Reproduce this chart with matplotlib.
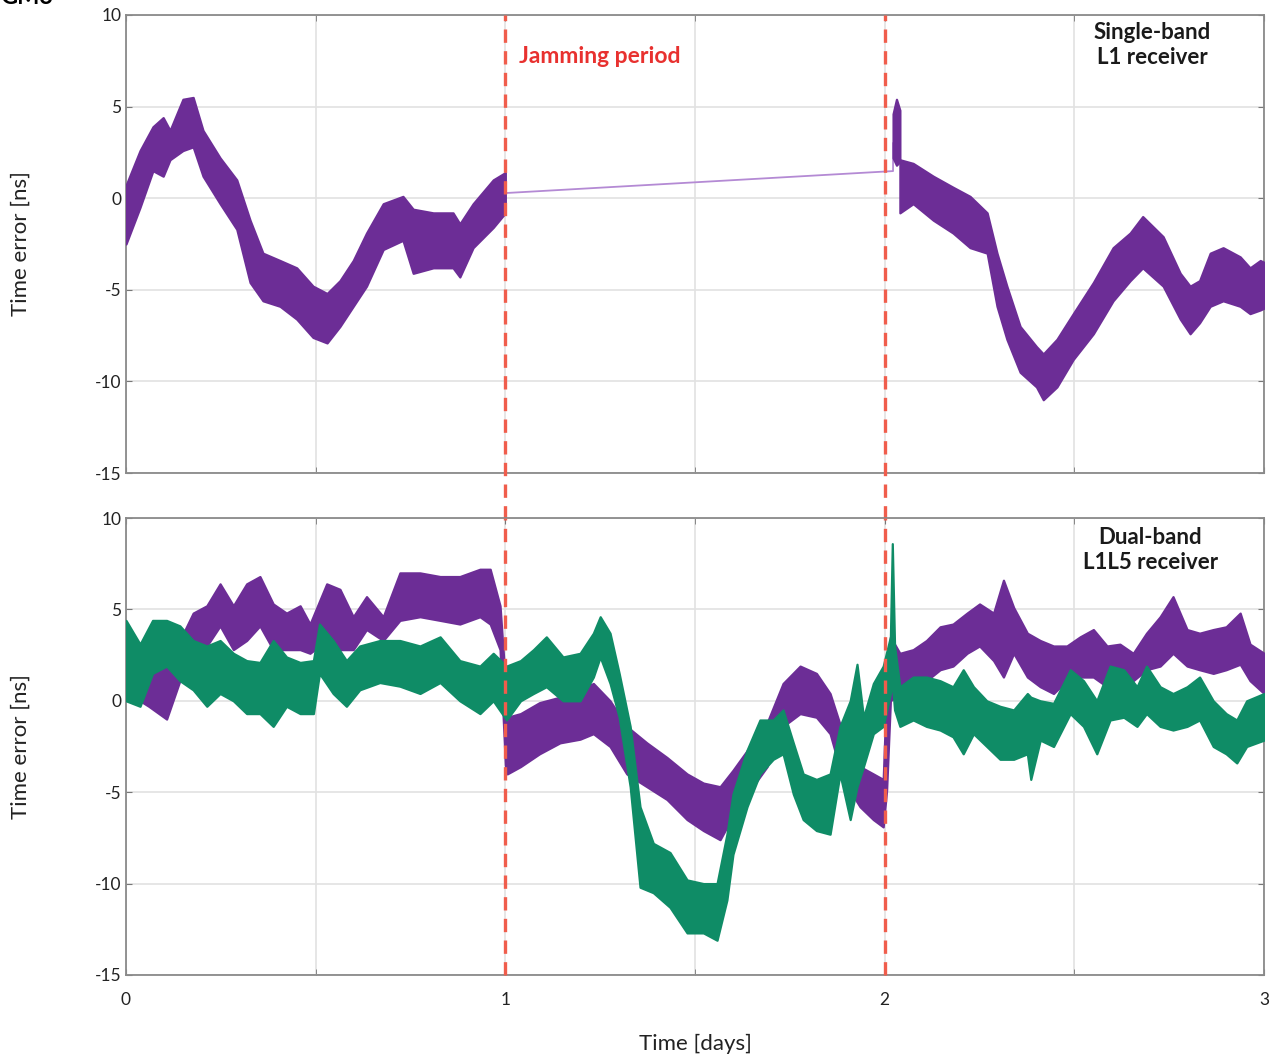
import numpy as np
import matplotlib
matplotlib.use("Agg")
import matplotlib.pyplot as plt

plt.rcParams['font.family'] = ['Lato', 'DejaVu Sans']
plt.rcParams['axes.unicode_minus'] = False

# ---- data (days, ns); each trace is a noisy band: lower / upper edge ----
# top panel: single-band L1 receiver
l1_x1 = [0.0, 0.037, 0.071, 0.098, 0.116, 0.15, 0.177, 0.203, 0.248, 0.292, 0.327, 0.361, 0.406, 0.45,
         0.493, 0.53, 0.564, 0.599, 0.634, 0.678, 0.73, 0.757, 0.81, 0.862, 0.88, 0.915, 0.968, 1.0]
l1_hi1 = [0.7, 2.6, 3.9, 4.4, 3.7, 5.4, 5.5, 3.7, 2.2, 1.0, -1.2, -3.0, -3.4, -3.8,
          -4.8, -5.2, -4.5, -3.4, -1.9, -0.3, 0.1, -0.6, -0.8, -0.8, -1.4, -0.3, 1.0, 1.4]
l1_lo1 = [-2.5, -0.5, 1.5, 1.2, 2.1, 2.6, 2.8, 1.2, -0.3, -1.7, -4.6, -5.6, -5.9, -6.6,
          -7.6, -7.9, -7.0, -5.9, -4.8, -2.8, -2.3, -4.1, -3.8, -3.8, -4.3, -2.7, -1.6, -0.8]

l1_spike_x = [2.022, 2.031, 2.04]
l1_spike_hi = [4.6, 5.4, 4.8]
l1_spike_lo = [2.2, 1.8, 2.0]

l1_x2 = [2.04, 2.075, 2.128, 2.18, 2.225, 2.27, 2.296, 2.322, 2.357, 2.4, 2.418, 2.454, 2.497, 2.55,
         2.602, 2.647, 2.68, 2.734, 2.779, 2.805, 2.83, 2.858, 2.892, 2.937, 2.963, 2.99, 3.0]
l1_hi2 = [2.1, 1.9, 1.2, 0.6, 0.1, -0.8, -3.0, -4.8, -7.0, -8.1, -8.5, -7.7, -6.3, -4.6,
          -2.7, -1.9, -1.0, -2.1, -4.1, -4.8, -4.5, -3.0, -2.7, -3.2, -3.8, -3.4, -3.5]
l1_lo2 = [-0.8, -0.3, -1.2, -1.9, -2.7, -3.0, -5.9, -7.7, -9.5, -10.3, -11.0, -10.3, -8.8, -7.4,
          -5.6, -4.5, -3.8, -4.8, -6.6, -7.4, -6.8, -5.9, -5.6, -5.9, -6.3, -6.1, -6.0]

# straight line drawn across the jamming gap
gap_x = [1.0, 2.022, 2.022]
gap_y = [0.28, 1.48, 3.0]

# bottom panel: dual-band L1L5 receiver, purple trace
l1l5_p_x = [0.0, 0.037, 0.06, 0.107, 0.142, 0.177, 0.213, 0.248, 0.283, 0.318, 0.353, 0.388, 0.423,
            0.459, 0.485, 0.529, 0.564, 0.599, 0.634, 0.678, 0.722, 0.775, 0.828, 0.88, 0.933, 0.96,
            0.986, 1.0, 1.005, 1.04, 1.09, 1.144, 1.197, 1.232, 1.276, 1.32, 1.373, 1.426, 1.479,
            1.522, 1.566, 1.6, 1.645, 1.69, 1.732, 1.777, 1.82, 1.856, 1.89, 1.935, 1.97, 1.996,
            2.005, 2.015, 2.04, 2.075, 2.11, 2.146, 2.18, 2.217, 2.25, 2.287, 2.313, 2.34, 2.376,
            2.41, 2.445, 2.48, 2.515, 2.55, 2.586, 2.62, 2.655, 2.69, 2.726, 2.76, 2.797, 2.83,
            2.866, 2.9, 2.937, 2.963, 3.0]
l1l5_p_hi = [3.3, 3.0, 2.4, 1.9, 3.3, 4.8, 5.2, 6.4, 5.2, 6.4, 6.8, 5.3, 4.8,
             5.2, 4.2, 6.4, 6.1, 4.6, 5.7, 4.6, 7.0, 7.0, 6.8, 6.8, 7.2, 7.2,
             5.2, 1.0, -0.9, -0.7, -0.1, 0.2, 0.6, 0.95, 0.0, -1.4, -2.3, -3.1, -4.0,
             -4.5, -4.7, -3.8, -2.5, -1.2, 0.95, 1.9, 1.5, 0.4, -1.8, -3.6, -4.0, -4.3,
             0.8, 3.5, 2.6, 2.8, 3.3, 4.05, 4.2, 4.8, 5.3, 4.8, 6.6, 5.1, 3.7,
             3.3, 3.0, 3.0, 3.5, 3.9, 3.0, 3.1, 2.6, 3.7, 4.6, 5.7, 3.9, 3.7,
             3.9, 4.05, 4.8, 3.1, 2.6]
l1l5_p_lo = [0.6, 0.0, -0.3, -1.0, 1.1, 2.8, 3.0, 4.1, 2.8, 3.3, 4.1, 2.8, 2.8,
             2.8, 2.6, 3.3, 2.8, 2.8, 3.9, 3.3, 4.4, 4.6, 4.4, 4.2, 4.6, 4.2,
             2.8, -3.5, -4.0, -3.6, -2.9, -2.3, -2.1, -1.8, -2.5, -4.0, -4.7, -5.4, -6.5,
             -7.1, -7.6, -6.3, -4.9, -3.6, -1.4, -0.7, -0.9, -1.8, -4.3, -5.8, -6.5, -6.9,
             -4.9, 0.0, 0.4, 0.77, 1.1, 1.7, 1.9, 2.6, 3.0, 2.2, 1.3, 2.6, 1.3,
             0.77, 0.4, 1.1, 1.3, 1.3, 0.77, 1.1, 1.1, 1.7, 1.9, 2.6, 1.9, 1.7,
             1.5, 1.7, 2.0, 1.1, 0.4]

# bottom panel: green trace
l1l5_g_x = [0.0, 0.037, 0.07, 0.107, 0.142, 0.177, 0.213, 0.248, 0.283, 0.318, 0.353, 0.388, 0.423,
            0.459, 0.494, 0.51, 0.546, 0.581, 0.616, 0.669, 0.722, 0.775, 0.828, 0.88, 0.933, 0.968,
            1.003, 1.04, 1.074, 1.108, 1.152, 1.197, 1.232, 1.25, 1.276, 1.3, 1.329, 1.355, 1.39,
            1.434, 1.479, 1.522, 1.558, 1.584, 1.6, 1.637, 1.671, 1.706, 1.732, 1.759, 1.785, 1.82,
            1.856, 1.882, 1.909, 1.927, 1.944, 1.97, 1.996, 2.015, 2.02, 2.026, 2.04, 2.075, 2.11,
            2.146, 2.18, 2.207, 2.234, 2.269, 2.304, 2.34, 2.376, 2.385, 2.41, 2.445, 2.489, 2.524,
            2.559, 2.594, 2.63, 2.665, 2.69, 2.726, 2.76, 2.797, 2.83, 2.866, 2.9, 2.928, 2.954, 3.0]
l1l5_g_hi = [4.4, 3.1, 4.4, 4.4, 4.1, 3.3, 3.0, 3.3, 2.6, 2.2, 2.1, 3.3, 2.4,
             2.1, 2.2, 4.2, 3.3, 2.2, 3.0, 3.3, 3.3, 3.0, 3.5, 2.2, 1.9, 2.6,
             1.9, 2.2, 2.8, 3.5, 2.4, 2.6, 3.7, 4.6, 3.7, 1.5, -1.4, -5.8, -7.8,
             -8.3, -9.8, -10.0, -10.0, -7.3, -5.1, -2.7, -1.05, -1.05, -0.5, -2.3, -4.0, -4.3,
             -4.0, -1.4, 0.0, 2.0, -0.9, 0.95, 1.9, 3.5, 8.6, 3.0, 0.77, 1.3, 1.3,
             1.1, 0.77, 1.7, 0.77, 0.0, -0.3, -0.5, 0.4, 0.2, 0.0, -0.14, 1.7, 1.1,
             0.0, 1.9, 1.7, 0.77, 1.9, 0.77, 0.4, 0.77, 1.3, 0.0, -0.7, -1.05, 0.0, 0.4]
l1l5_g_lo = [0.0, -0.3, 1.5, 1.9, 1.1, 0.6, -0.3, 0.4, 0.0, -0.7, -0.7, -1.4, -0.3,
             -0.7, -0.7, 1.5, 0.4, -0.3, 0.6, 1.0, 0.8, 0.4, 1.0, 0.0, -0.7, 0.0,
             -1.05, 0.0, 0.4, 0.77, 0.0, 0.0, 1.3, 2.4, 0.95, -0.9, -4.7, -10.2, -10.5,
             -11.3, -12.7, -12.7, -13.1, -10.9, -8.4, -5.8, -4.0, -3.2, -2.9, -5.1, -6.5, -7.1,
             -7.3, -4.0, -6.5, -4.7, -3.6, -1.8, -1.4, 0.4, 1.0, -0.5, -1.4, -1.05, -1.4,
             -1.6, -1.97, -2.9, -1.8, -2.5, -3.2, -3.2, -2.9, -4.3, -2.15, -2.5, -0.7, -1.4,
             -2.9, -1.05, -0.9, -1.4, -0.7, -1.4, -1.6, -1.4, -1.05, -2.5, -2.9, -3.4, -2.5, -2.15]

purple = '#6c2d96'
green = '#0f8c66'
jam_red = '#f05d4c'


def band(ax, x, lo, hi, color, z):
    # noisy trace drawn as its envelope, with a soft edge
    ax.fill_between(x, lo, hi, facecolor=color, edgecolor=color, lw=1.6, zorder=z)


fig = plt.figure(figsize=(12.74, 10.54), dpi=100)
ax1 = fig.add_axes([0.0989, 0.5512, 0.8933, 0.4346])
ax2 = fig.add_axes([0.0989, 0.0750, 0.8933, 0.4335])

band(ax1, l1_x1, l1_lo1, l1_hi1, purple, 3)
band(ax1, l1_spike_x, l1_spike_lo, l1_spike_hi, purple, 3)
band(ax1, l1_x2, l1_lo2, l1_hi2, purple, 3)
ax1.plot(gap_x, gap_y, color='#b48ad4', lw=1.3, zorder=2)

band(ax2, l1l5_p_x, l1l5_p_lo, l1l5_p_hi, purple, 3)
band(ax2, l1l5_g_x, l1l5_g_lo, l1l5_g_hi, green, 4)

for ax in (ax1, ax2):
    ax.set_xlim(0, 3)
    ax.set_ylim(-15, 10)
    ax.set_yticks([10, 5, 0, -5, -10, -15])
    ax.set_xticks([0, 1, 2, 3])
    ax.set_xticks([0.5, 1.5, 2.5], minor=True)
    ax.grid(True, which='both', color='#e2e2e2', lw=1.2, zorder=0)
    ax.tick_params(which='both', direction='in', length=4, top=True, right=True,
                   color='#777777', labelsize=12.5, labelcolor='#222222')
    for s in ax.spines.values():
        s.set_color('#8a8a8a')
        s.set_linewidth(1.3)
    ax.set_ylabel('Time error [ns]', fontsize=16, color='#222222', labelpad=46)

ax1.tick_params(labelbottom=False)
ax2.tick_params(axis='x', pad=12)
ax2.set_xlabel('Time [days]', fontsize=16, color='#222222', labelpad=19)

# jamming window, dashed lines running through both panels
for xv in (1, 2):
    ax1.axvline(xv, ymin=-0.1, ymax=1.0, color=jam_red, lw=2.4, ls=(0, (4, 2.5)),
                clip_on=False, zorder=5)
    ax2.axvline(xv, ymin=0.0, ymax=1.0, color=jam_red, lw=2.4, ls=(0, (4, 2.5)),
                clip_on=False, zorder=5)

ax1.text(1.036, 7.75, 'Jamming period', color='#e8312f', fontsize=16.5, fontweight='bold',
         ha='left', va='center')
ax1.text(2.705, 8.35, 'Single-band\nL1 receiver', fontsize=16, fontweight='bold',
         ha='center', va='center', linespacing=1.2, color='#1a1a1a')
ax2.text(2.70, 8.25, 'Dual-band\nL1L5 receiver', fontsize=16, fontweight='bold',
         ha='center', va='center', linespacing=1.2, color='#1a1a1a')

fig.text(0.0, 1.003, 'GM3', fontsize=17, fontweight='bold', ha='left', va='center')

fig.savefig('out.png', dpi=100)
